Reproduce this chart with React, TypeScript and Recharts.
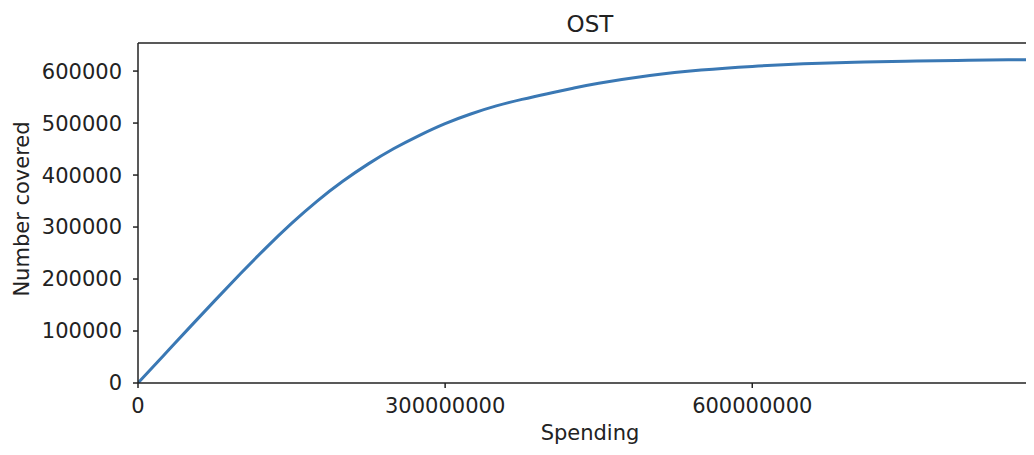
import React from 'react';
import { LineChart, Line, XAxis, YAxis, ReferenceLine, Label } from 'recharts';

const spending = [
  0, 25e6, 50e6, 75e6, 100e6, 125e6, 150e6, 175e6, 200e6, 225e6, 250e6, 275e6, 300e6,
  325e6, 350e6, 375e6, 400e6, 425e6, 450e6, 500e6, 550e6, 600e6, 650e6, 700e6, 750e6,
  800e6, 850e6, 883e6,
];
const covered = [
  0, 53000, 106000, 158500, 210000, 260000, 307000, 350000, 388000, 421500, 451000, 476500, 499000,
  517500, 533000, 545500, 556500, 567000, 576500, 591500, 602000, 609000, 614000, 617000, 619000,
  620500, 621600, 622300,
];
const xTicks = [0, 300000000, 600000000];
const yTicks = [0, 100000, 200000, 300000, 400000, 500000, 600000];

const data = spending.map((s, i) => ({ spend: s, covered: covered[i] }));

const ink = '#222';
const tickStyle = { fontSize: 21, fill: ink, fontFamily: 'DejaVu Sans' };

export default function App() {
  return (
    <div style={{ position: 'relative', width: 1026, height: 447, overflow: 'hidden', fontFamily: 'DejaVu Sans' }}>
      <div style={{ position: 'absolute', top: 5, left: 130, width: 904, textAlign: 'center', fontSize: 23, lineHeight: '23px', color: ink }}>
        OST
      </div>
      <LineChart width={1034} height={447} data={data} margin={{ top: 35, right: 0, bottom: 0, left: 0 }}>
        <XAxis
          dataKey="spend"
          type="number"
          domain={[0, 883e6]}
          ticks={xTicks}
          allowDataOverflow
          height={72}
          stroke={ink}
          strokeWidth={1.5}
          tickSize={5}
          tickMargin={10}
          tick={tickStyle}
        >
          <Label value="Spending" position="insideBottom" offset={15} style={{ fontSize: 21, fill: ink }} />
        </XAxis>
        <YAxis
          type="number"
          domain={[0, 654000]}
          ticks={yTicks}
          allowDataOverflow
          width={130}
          stroke={ink}
          strokeWidth={1.5}
          tickSize={5}
          tickMargin={11}
          tick={tickStyle}
        >
          <Label
            content={(p: any) => {
              const vb = p.viewBox || { x: 0, y: 35, width: 130, height: 340 };
              const cx = vb.x + 14;
              const cy = vb.y + vb.height / 2 - 4;
              return (
                <text x={cx} y={cy} transform={`rotate(-90 ${cx} ${cy})`} textAnchor="middle" dominantBaseline="central" fontSize={21} fill={ink}>
                  Number covered
                </text>
              );
            }}
          />
        </YAxis>
        <ReferenceLine y={654000} stroke={ink} strokeWidth={1.5} ifOverflow="extendDomain" />
        <Line type="natural" dataKey="covered" stroke="#3a78b4" strokeWidth={3} dot={false} isAnimationActive={false} />
      </LineChart>
    </div>
  );
}
